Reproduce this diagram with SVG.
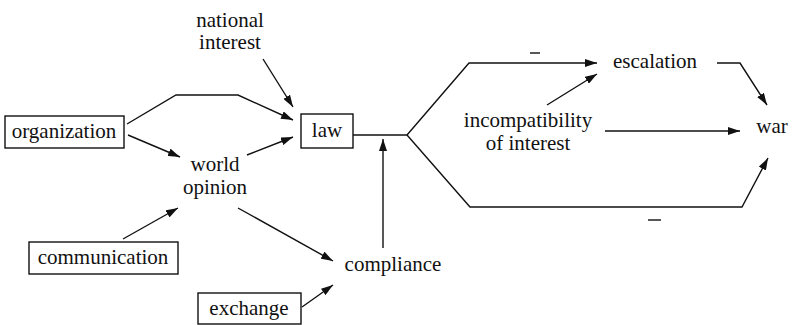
<svg xmlns="http://www.w3.org/2000/svg" width="792" height="325" viewBox="0 0 792 325">
  <style>
    text { font-family: Liberation Serif, Tinos, Times New Roman, Times, serif; font-size: 21px; fill: #111; text-anchor: middle; }
    .box { fill: #fff; stroke: #111; stroke-width: 1.4; }
    .edge { fill: none; stroke: #111; stroke-width: 1.4; }
    .arr { marker-end: url(#head); }
  </style>
  <defs>
    <marker id="head" viewBox="0 0 12 8" refX="12" refY="4" markerWidth="12" markerHeight="8" markerUnits="userSpaceOnUse" orient="auto">
      <path d="M0,0 L12,4 L0,8 Z" fill="#111"/>
    </marker>
  </defs>

  <g id="connectors">
    <!-- inputs to law -->
    <path class="edge arr" d="M263,59 L293,107"/>
    <path class="edge arr" d="M127,124 L176,95 L238,95 L293,120"/>
    <path class="edge arr" d="M247,155 L293,137"/>
    <!-- inputs to world opinion -->
    <path class="edge arr" d="M128,135 L180,157"/>
    <path class="edge arr" d="M123,239 L178,208"/>
    <!-- inputs to compliance -->
    <path class="edge arr" d="M238,208 L333,261"/>
    <path class="edge arr" d="M302,307 L333,285"/>
    <!-- compliance up into the law line -->
    <path class="edge arr" d="M383,248 L383,139"/>
    <!-- law splitting into two branches -->
    <path class="edge" d="M353,135 L407,135"/>
    <path class="edge arr" d="M407,135 L469,63 L597,63"/>
    <path class="edge arr" d="M407,135 L470,207 L742,207 L768,158"/>
    <!-- other links -->
    <path class="edge arr" d="M547,105 L597,74"/>
    <path class="edge arr" d="M605,131 L740,131"/>
    <path class="edge arr" d="M717,63 L740,63 L767,105"/>
    <!-- negative signs -->
    <path class="edge" d="M530,53 L540,53"/>
    <path class="edge" d="M648,220 L661,220"/>
  </g>

  <g id="national-interest">
    <text x="230" y="27">national</text>
    <text x="230" y="49">interest</text>
  </g>
  <g id="organization">
    <rect class="box" x="5" y="116" width="119" height="32"/>
    <text x="64" y="138">organization</text>
  </g>
  <g id="law">
    <rect class="box" x="301" y="114" width="52" height="34"/>
    <text x="327" y="137">law</text>
  </g>
  <g id="world-opinion">
    <text x="215" y="171">world</text>
    <text x="215" y="194">opinion</text>
  </g>
  <g id="communication">
    <rect class="box" x="29" y="242" width="149" height="32"/>
    <text x="103" y="264">communication</text>
  </g>
  <g id="exchange">
    <rect class="box" x="198" y="293" width="103" height="31"/>
    <text x="249" y="315">exchange</text>
  </g>
  <g id="compliance">
    <text x="393" y="271">compliance</text>
  </g>
  <g id="escalation">
    <text x="655" y="68">escalation</text>
  </g>
  <g id="incompatibility">
    <text x="528" y="127">incompatibility</text>
    <text x="528" y="150">of interest</text>
  </g>
  <g id="war">
    <text x="772" y="133">war</text>
  </g>
</svg>
